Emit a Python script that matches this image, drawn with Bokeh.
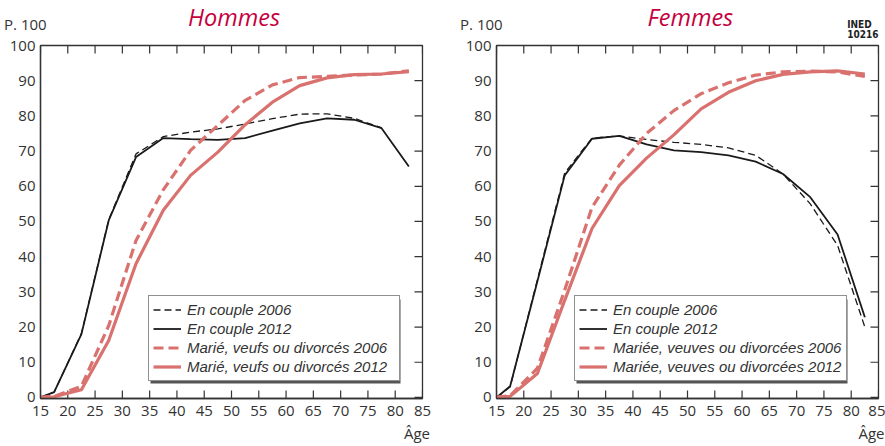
from bokeh.plotting import figure
from bokeh.models import Range1d, LinearAxis, FixedTicker, Legend, LegendItem, Title
from bokeh.layouts import row
from bokeh.embed import file_html
from bokeh.resources import INLINE

NaN = float("nan")

ages = [15, 17.5, 22.5, 27.5, 32.5, 37.5, 42.5, 47.5, 52.5, 57.5, 62.5, 67.5, 72.5, 77.5, 82.5]

# Hommes
h_couple_2006 = [0, 1.5, 18.2, 50.5, 69.2, 74.1, 75.4, 76.3, 77.7, 79.2, 80.5, 80.6, 79.3, 76.6, NaN]
h_couple_2012 = [0, 1.5, 18.0, 50.3, 68.3, 73.7, 73.4, 73.2, 73.7, 75.8, 77.9, 79.3, 78.9, 76.5, 65.6]
h_marie_2006 = [0, 0.3, 3.2, 20.4, 44.6, 59.0, 70.2, 77.3, 84.4, 88.8, 90.9, 91.2, 91.6, 91.9, 92.8]
h_marie_2012 = [0, 0.2, 2.2, 16.2, 38.0, 53.2, 63.1, 69.7, 77.5, 83.9, 88.6, 90.8, 91.7, 91.9, 92.6]

# Femmes
f_couple_2006 = [0, 3.0, 33.5, 63.8, 73.7, 74.3, 73.3, 72.5, 71.9, 70.9, 68.8, 63.5, 55.0, 43.2, 20.0]
f_couple_2012 = [0, 3.2, 33.0, 63.1, 73.5, 74.3, 71.9, 70.2, 69.7, 68.8, 67.0, 63.5, 56.9, 46.3, 22.8]
f_marie_2006 = [0, 0.5, 8.3, 30.5, 54.0, 66.0, 75.0, 81.5, 86.3, 89.4, 91.6, 92.5, 92.7, 92.5, 91.2]
f_marie_2012 = [0, 0.3, 6.8, 27.6, 48.0, 60.2, 68.0, 74.6, 82.0, 86.7, 90.0, 91.8, 92.5, 92.8, 91.9]

x_ticks = [15, 20, 25, 30, 35, 40, 45, 50, 55, 60, 65, 70, 75, 80, 85]
y_ticks = [0, 10, 20, 30, 40, 50, 60, 70, 80, 90, 100]

labels_h = ["En couple 2006", "En couple 2012",
            "Marié, veufs ou divorcés 2006", "Marié, veufs ou divorcés 2012"]
labels_f = ["En couple 2006", "En couple 2012",
            "Mariée, veuves ou divorcées 2006", "Mariée, veuves ou divorcées 2012"]

FONT = "Open Sans"
LEG_FONT = "Liberation Sans"
AXC = "#333333"
RED = "#D9716F"
TITLE_RED = "#C5003E"

X0, X1, Y0, Y1 = 15, 85, -0.3, 100
FRAME_W, FRAME_H = 382, 353
TOP = 45
TICK = 8
K = 1.24   # text box height / font size (observed)
D = 0.24   # descent / font size

# legend box geometry (screen px)
LEG_PAD, LEG_GLYPH, LEG_STANDOFF, LEG_ROW, LEG_BOTTOM = 4, 28, 6, 19, 17


def panel(title, series, labels, width, border_left, border_right,
          title_dx, age_dx, legend_x, label_w, ined=False):
    p = figure(width=width, height=446, output_backend="svg", toolbar_location=None,
               x_range=Range1d(X0, X1), y_range=Range1d(Y0, Y1),
               min_border_left=border_left, min_border_right=border_right,
               min_border_top=TOP, min_border_bottom=48,
               x_axis_location=None, y_axis_location=None)
    p.grid.visible = False
    p.outline_line_color = AXC
    p.outline_line_width = 1.3
    p.background_fill_color = "white"
    p.border_fill_color = "white"

    bottom = LinearAxis(ticker=FixedTicker(ticks=x_ticks))
    left = LinearAxis(ticker=FixedTicker(ticks=y_ticks))
    for ax in (bottom, left):
        ax.axis_line_color = AXC
        ax.axis_line_width = 1.3
        ax.major_tick_line_color = AXC
        ax.major_tick_line_width = 1.2
        ax.major_tick_in = 0
        ax.major_tick_out = 0
        ax.minor_tick_line_color = None
        ax.major_label_text_font = FONT
        ax.major_label_text_font_size = "15px"
        ax.major_label_text_color = AXC
    left.major_label_standoff = 5
    bottom.major_label_standoff = 7
    p.add_layout(bottom, "below")
    p.add_layout(left, "left")

    # inward ticks on bottom, top and right edges of the frame
    sx = (X1 - X0) / FRAME_W
    sy = (Y1 - Y0) / FRAME_H
    dy = TICK * sy
    dx = TICK * sx
    n = len(x_ticks)
    p.segment(x0=x_ticks, y0=[Y1] * n, x1=x_ticks, y1=[Y1 - dy] * n, line_color=AXC, line_width=1.2)
    p.segment(x0=x_ticks, y0=[Y0] * n, x1=x_ticks, y1=[Y0 + dy] * n, line_color=AXC, line_width=1.2)
    m = len(y_ticks)
    p.segment(x0=[X1] * m, y0=y_ticks, x1=[X1 - dx] * m, y1=y_ticks, line_color=AXC, line_width=1.2)

    c06, c12, m06, m12 = series
    r1 = p.line(ages, c06, line_color="#1a1a1a", line_width=1.3, line_dash="7 4")
    r2 = p.line(ages, c12, line_color="#1a1a1a", line_width=1.8)
    r3 = p.line(ages, m06, line_color=RED, line_width=3.2, line_dash="10 5")
    r4 = p.line(ages, m12, line_color=RED, line_width=3.2)

    # legend drop shadow (2 px down-right of the legend box)
    box_w = 2 * LEG_PAD + LEG_GLYPH + LEG_STANDOFF + label_w
    box_h = 2 * LEG_PAD + 4 * LEG_ROW
    p.quad(left=[X0 + (legend_x + 2) * sx], right=[X0 + (legend_x + box_w + 2) * sx],
           bottom=[Y0 + (LEG_BOTTOM - 2) * sy], top=[Y0 + (LEG_BOTTOM + box_h - 2) * sy],
           fill_color="#555555", line_color=None)

    legend = Legend(items=[LegendItem(label=labels[i], renderers=[r]) for i, r in enumerate([r1, r2, r3, r4])],
                    location=(legend_x, LEG_BOTTOM), border_line_color="#222222", border_line_width=1.1,
                    background_fill_color="white", background_fill_alpha=1.0,
                    label_text_font=LEG_FONT, label_text_font_style="italic",
                    label_text_font_size="15px", label_text_color=AXC,
                    glyph_width=LEG_GLYPH, glyph_height=LEG_ROW, label_height=LEG_ROW,
                    label_width=label_w, label_standoff=LEG_STANDOFF,
                    padding=LEG_PAD, spacing=0, margin=0)
    p.add_layout(legend, "center")

    # --- texts outside the frame, as stacked titles above (nearest first) ---
    b = TOP
    tb = 30 + D * 15
    s = 2 * (b - tb)
    p.add_layout(Title(text="P. 100", align="left", offset=-36.4, text_font=FONT,
                       text_font_size="15px", text_font_style="normal", text_color=AXC,
                       standoff=s, vertical_align="bottom"), "above")
    b -= max(0.0, 2 + K * 15 + s)
    tb = 28.0 + D * 23.5
    s = 2 * (b - tb)
    p.add_layout(Title(text=title, align="left", offset=title_dx, text_font=FONT,
                       text_font_style="italic", text_font_size="23.5px", text_color=TITLE_RED,
                       standoff=s, vertical_align="bottom"), "above")
    b -= max(0.0, 2 + K * 23.5 + s)
    if ined:
        tb = 38.8 + D * 10.5
        s = 2 * (b - tb)
        p.add_layout(Title(text="INED\n10216", align="right", offset=0,
                           text_font="'DejaVu Sans Condensed', 'Liberation Sans Narrow', Roboto",
                           text_font_size="10px", text_font_style="bold", text_color="#222222",
                           text_line_height=0.9, standoff=s, vertical_align="bottom"), "above")

    # "Âge" below the bottom axis
    p.add_layout(Title(text="Âge", align="right", offset=-age_dx, text_font=FONT,
                       text_font_size="15px", text_font_style="normal", text_color=AXC,
                       standoff=5, vertical_align="bottom"), "below")
    return p


p1 = panel("Hommes", (h_couple_2006, h_couple_2012, h_marie_2006, h_marie_2012), labels_h,
           440, 40, 18, title_dx=147.6, age_dx=7.5, legend_x=108, label_w=208)
p2 = panel("Femmes", (f_couple_2006, f_couple_2012, f_marie_2006, f_marie_2012), labels_f,
           445, 56, 7, title_dx=151, age_dx=6, legend_x=78, label_w=229, ined=True)

p = row(p1, p2)
open("out.html", "w").write(file_html(p, INLINE))
